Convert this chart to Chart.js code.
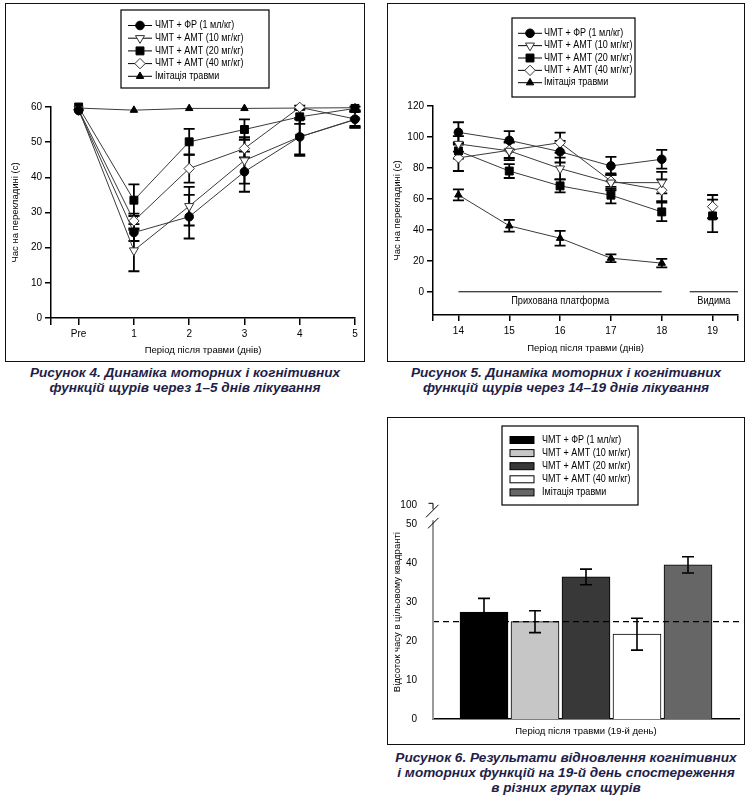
<!DOCTYPE html>
<html>
<head>
<meta charset="utf-8">
<script src="https://cdn.jsdelivr.net/npm/chart.js@4.4.0/dist/chart.umd.min.js"></script>
<style>
  body { margin: 0; background: #fff; width: 750px; height: 797px; position: relative; overflow: hidden; }
  .panel { position: absolute; border: 1.5px solid #111; box-sizing: border-box; }
  .panel canvas { position: absolute; left: 0; top: 0; }
  .cap { position: absolute; text-align: center; color: #1e1e48; font: italic bold 13.6px "Liberation Sans", Arial, sans-serif; line-height: 15px; }
</style>
</head>
<body>
<div class="panel" style="left:5px; top:3px; width:360px; height:359px;"><canvas id="c4" width="360" height="359"></canvas></div>
<div class="panel" style="left:387px; top:3px; width:358px; height:359px;"><canvas id="c5" width="358" height="359"></canvas></div>
<div class="panel" style="left:387px; top:417px; width:358px; height:328px;"><canvas id="c6" width="358" height="328"></canvas></div>

<div class="cap" style="left:5px; width:360px; top:365px;">Рисунок 4. Динаміка моторних і когнітивних<br>функцій щурів через 1–5 днів лікування</div>
<div class="cap" style="left:387px; width:358px; top:365px;">Рисунок 5. Динаміка моторних і когнітивних<br>функцій щурів через 14–19 днів лікування</div>
<div class="cap" style="left:387px; width:358px; top:750px;">Рисунок 6. Результати відновлення когнітивних<br>і моторних функцій на 19-й день спостереження<br>в різних групах щурів</div>

<script>
const FONT = "'Liberation Sans', Arial, sans-serif";
Chart.defaults.font.family = FONT;
Chart.defaults.font.size = 10;
Chart.defaults.color = "#000";
const TITLE_FONT = { size: 9.5 };

// group names (legend)
const groups = [
  "ЧМТ + ФР (1 мл/кг)",
  "ЧМТ + АМТ (10 мг/кг)",
  "ЧМТ + АМТ (20 мг/кг)",
  "ЧМТ + АМТ (40 мг/кг)",
  "Імітація травми",
];

// Figure 4: days 1-5 (0 = Pre)
const days4 = [0, 1, 2, 3, 4, 5];
const dayLabels4 = ["Pre", "1", "2", "3", "4", "5"];
const fr4 = [59.0, 24.3, 28.8, 41.6, 51.5, 56.5];
const fr4Err = [0, 2.4, 6.2, 5.7, 5.4, 2.3];
const amt10_4 = [59.4, 19.2, 31.8, 44.8, 51.5, 56.4];
const amt10_4Err = [0, 5.9, 5.5, 6.6, 5.0, 2.3];
const amt20_4 = [60.0, 33.5, 50.1, 53.6, 57.2, 59.6];
const amt20_4Err = [0, 4.5, 3.7, 2.9, 2.0, 0.5];
const amt40_4 = [59.2, 27.6, 42.5, 48.2, 59.9, 56.6];
const amt40_4Err = [0, 2.1, 4.0, 2.5, 0.5, 2.0];
const sham4 = [59.7, 59.1, 59.6, 59.6, 59.7, 59.8];
const yTicks4 = [0, 10, 20, 30, 40, 50, 60];

// Figure 5: days 14-18 hidden platform, 19 visible
const days5 = [14, 15, 16, 17, 18];
const fr5 = [103.0, 97.8, 90.5, 81.3, 85.6];
const fr5Err = [6.5, 6.0, 7.0, 5.8, 6.0];
const amt10_5 = [95.5, 91.0, 79.6, 70.5, 70.5];
const amt10_5Err = [5.0, 6.0, 7.0, 5.0, 7.0];
const amt20_5 = [91.0, 78.0, 68.4, 62.4, 51.6];
const amt20_5Err = [5.0, 4.5, 4.2, 5.3, 6.0];
const amt40_5 = [86.5, 91.4, 96.3, 71.5, 65.6];
const amt40_5Err = [8.5, 5.0, 6.5, 5.0, 7.0];
const sham5 = [62.6, 42.6, 34.6, 21.7, 18.5];
const sham5Err = [3.5, 3.8, 4.8, 2.5, 2.7];
const visibleDay = 19;
const amt20_19 = 49.0, amt20_19Err = 10.5;
const amt40_19 = 55.0, amt40_19Err = 7.5;
const yTicks5 = [0, 20, 40, 60, 80, 100, 120];
const phases5 = [
  { label: "Прихована платформа", from: 14, to: 18 },
  { label: "Видима", from: 18.55, to: 19.5 },
];

// Figure 6: day 19 quadrant time
const values6 = [27.5, 25.0, 36.5, 21.8, 39.6];
const err6 = [3.5, 2.8, 2.0, 4.1, 2.1];
const colors6 = ["#000000", "#c6c6c6", "#383838", "#ffffff", "#666666"];
const chance6 = 25;
const yTicks6 = [0, 10, 20, 30, 40, 50];

const LINE = "#3a3a3a";

function yOf(raw) {
  return raw !== null && typeof raw === "object" ? raw.y : raw;
}

// narrow text like the original's condensed face
function narrowText(ctx, text, x, y, squeeze) {
  ctx.save();
  ctx.translate(x, y);
  ctx.scale(squeeze, 1);
  ctx.fillText(text, 0, 0);
  ctx.restore();
}

function drawErrors(chart, opts) {
  const ctx = chart.ctx;
  const yScale = chart.scales.y;
  const cap = opts.cap || 5;
  ctx.save();
  ctx.strokeStyle = "#000";
  ctx.lineWidth = opts.width || 1.6;
  chart.data.datasets.forEach((ds, i) => {
    if (!ds.errors) return;
    const meta = chart.getDatasetMeta(i);
    meta.data.forEach((el, j) => {
      const e = ds.errors[j];
      const v = yOf(ds.data[j]);
      if (!e || v == null) return;
      const x = el.x;
      const top = yScale.getPixelForValue(v + e);
      const bot = yScale.getPixelForValue(v - e);
      ctx.beginPath();
      ctx.moveTo(x, top); ctx.lineTo(x, bot);
      ctx.moveTo(x - cap, top); ctx.lineTo(x + cap, top);
      ctx.moveTo(x - cap, bot); ctx.lineTo(x + cap, bot);
      ctx.stroke();
    });
  });
  ctx.restore();
}

const errorBars = {
  id: "errorBars",
  beforeDatasetsDraw(chart, args, opts) {
    if (opts.layer === "behind") drawErrors(chart, opts);
  },
  afterDatasetsDraw(chart, args, opts) {
    if (opts.layer !== "behind") drawErrors(chart, opts);
  },
};

// legend drawn in a framed box, line + marker like the original
const boxLegend = {
  id: "boxLegend",
  afterDraw(chart, args, opts) {
    const ctx = chart.ctx;
    ctx.save();
    ctx.strokeStyle = "#000";
    ctx.lineWidth = 1.2;
    ctx.strokeRect(opts.x, opts.y, opts.w, opts.h);
    ctx.font = "10px " + FONT;
    ctx.textBaseline = "middle";
    let row = 0;
    chart.data.datasets.forEach((ds) => {
      if (ds.noLegend) return;
      const y = opts.y + opts.first + row * opts.step;
      const x0 = opts.x + opts.lineFrom;
      const x1 = opts.x + opts.lineTo;
      ctx.strokeStyle = "#000";
      ctx.lineWidth = 1;
      ctx.beginPath();
      ctx.moveTo(x0, y); ctx.lineTo(x1, y);
      ctx.stroke();
      ctx.fillStyle = ds.pointBackgroundColor;
      ctx.strokeStyle = ds.pointBorderColor;
      ctx.lineWidth = ds.pointBorderWidth;
      Chart.helpers.drawPoint(ctx, {
        pointStyle: ds.pointStyle,
        radius: ds.pointRadius,
        rotation: ds.pointRotation || 0,
        borderWidth: ds.pointBorderWidth,
      }, (x0 + x1) / 2, y);
      ctx.fillStyle = "#000";
      narrowText(ctx, ds.label, opts.x + opts.textX, y, opts.squeeze);
      row++;
    });
    ctx.restore();
  },
};

const swatchLegend = {
  id: "swatchLegend",
  afterDraw(chart, args, opts) {
    const ctx = chart.ctx;
    ctx.save();
    ctx.strokeStyle = "#000";
    ctx.lineWidth = 1.2;
    ctx.strokeRect(opts.x, opts.y, opts.w, opts.h);
    ctx.font = "10px " + FONT;
    ctx.textBaseline = "middle";
    groups.forEach((g, i) => {
      const y = opts.y + opts.first + i * opts.step;
      ctx.fillStyle = colors6[i];
      ctx.fillRect(opts.x + opts.swX, y - 3.5, opts.swW, 7);
      ctx.strokeStyle = "#000";
      ctx.lineWidth = 1;
      ctx.strokeRect(opts.x + opts.swX, y - 3.5, opts.swW, 7);
      ctx.fillStyle = "#000";
      narrowText(ctx, g, opts.x + opts.textX, y, opts.squeeze);
    });
    ctx.restore();
  },
};

const phaseLabels = {
  id: "phaseLabels",
  afterDatasetsDraw(chart, args, opts) {
    const { ctx, scales: { x, y } } = chart;
    const y0 = y.getPixelForValue(0);
    ctx.save();
    ctx.strokeStyle = "#000";
    ctx.lineWidth = 1;
    ctx.font = "10px " + FONT;
    ctx.textAlign = "center";
    ctx.textBaseline = "middle";
    ctx.fillStyle = "#000";
    opts.phases.forEach((p) => {
      const a = x.getPixelForValue(p.from);
      const b = x.getPixelForValue(p.to);
      ctx.beginPath();
      ctx.moveTo(a, y0); ctx.lineTo(b, y0);
      ctx.stroke();
      narrowText(ctx, p.label, (a + b) / 2, y0 + 9, 0.92);
    });
    ctx.restore();
  },
};

const axisBreak = {
  id: "axisBreak",
  afterDraw(chart, args, opts) {
    const { ctx, scales: { y } } = chart;
    const x0 = chart.chartArea.left;
    const yB = y.getPixelForValue(opts.breakAt);
    const yT = y.getPixelForValue(y.max);
    const yZ = y.getPixelForValue(0);
    ctx.save();
    ctx.strokeStyle = "#9a9a9a";
    ctx.lineWidth = 2;
    ctx.beginPath();
    ctx.moveTo(x0, yZ); ctx.lineTo(x0, yB - 4);
    ctx.stroke();
    ctx.strokeStyle = "#000";
    ctx.lineWidth = 1;
    ctx.beginPath();
    ctx.moveTo(x0 - 5, yB + 4); ctx.lineTo(x0 + 5.5, yB - 6.5);
    ctx.moveTo(x0 - 4.5, yT - 2); ctx.lineTo(x0, yT - 2); ctx.lineTo(x0, yT + 4);
    ctx.moveTo(x0 - 7, yT + 12); ctx.lineTo(x0 + 5.5, yT - 0.5);
    ctx.stroke();
    ctx.restore();
  },
};

function lineSet(label, xs, ys, errs, style) {
  return Object.assign({
    label,
    data: xs.map((x, i) => ({ x, y: ys[i] })),
    errors: errs,
    borderColor: LINE,
    borderWidth: 1,
    tension: 0,
    clip: false,
    pointBorderWidth: 1,
  }, style);
}

const STYLES = [
  { pointStyle: "circle", pointRadius: 4.3, pointBackgroundColor: "#000", pointBorderColor: "#000" },
  { pointStyle: "triangle", pointRadius: 5.2, pointRotation: 180, pointBackgroundColor: "#fff", pointBorderColor: "#333" },
  { pointStyle: "rect", pointRadius: 5.6, pointBackgroundColor: "#000", pointBorderColor: "#000" },
  { pointStyle: "rectRot", pointRadius: 5.2, pointBackgroundColor: "#fff", pointBorderColor: "#333" },
  { pointStyle: "triangle", pointRadius: 4.3, pointBackgroundColor: "#000", pointBorderColor: "#000" },
];

function fixedTicks(values) {
  return (scale) => { scale.ticks = values.map((v) => ({ value: v })); };
}

// ---------- Figure 4 ----------
new Chart(document.getElementById("c4"), {
  type: "line",
  data: {
    datasets: [
      lineSet(groups[0], days4, fr4, fr4Err, STYLES[0]),
      lineSet(groups[1], days4, amt10_4, amt10_4Err, STYLES[1]),
      lineSet(groups[2], days4, amt20_4, amt20_4Err, STYLES[2]),
      lineSet(groups[3], days4, amt40_4, amt40_4Err, STYLES[3]),
      lineSet(groups[4], days4, sham4, null, STYLES[4]),
    ],
  },
  options: {
    responsive: false,
    animation: false,
    layout: { padding: { top: 103, right: 11, left: 0, bottom: 0 } },
    scales: {
      x: {
        type: "linear",
        min: -0.5,
        max: 5,
        afterBuildTicks: fixedTicks([-0.5].concat(days4)),
        afterFit: (s) => { s.height = 45; },
        grid: { drawOnChartArea: false, color: "#000", tickLength: 7, lineWidth: 1.5 },
        border: { color: "#000", width: 1.5 },
        ticks: {
          padding: 3,
          callback: (v) => { const i = days4.indexOf(v); return i < 0 ? "" : dayLabels4[i]; },
        },
        title: { display: true, text: "Період після травми (днів)", font: TITLE_FONT, padding: { top: 0, bottom: 7 } },
      },
      y: {
        min: 0,
        max: 60,
        afterBuildTicks: fixedTicks(yTicks4),
        afterFit: (s) => { s.width = 45; },
        grid: { drawOnChartArea: false, color: "#000", tickLength: 6, lineWidth: 1.5 },
        border: { color: "#000", width: 1.5 },
        ticks: { padding: 3 },
        title: { display: true, text: "Час на перекладині (с)", font: TITLE_FONT, padding: { top: 4, bottom: 0 } },
      },
    },
    plugins: {
      legend: { display: false },
      tooltip: { enabled: false },
      errorBars: { layer: "behind", cap: 5.5, width: 1.8 },
      boxLegend: { x: 115, y: 6, w: 148, h: 78, first: 15.5, step: 12.7, lineFrom: 7, lineTo: 31, textX: 34, squeeze: 0.9 },
    },
  },
  plugins: [errorBars, boxLegend],
});

// ---------- Figure 5 ----------
new Chart(document.getElementById("c5"), {
  type: "line",
  data: {
    datasets: [
      lineSet(groups[0], days5, fr5, fr5Err, STYLES[0]),
      lineSet(groups[1], days5, amt10_5, amt10_5Err, STYLES[1]),
      lineSet(groups[2], days5, amt20_5, amt20_5Err, STYLES[2]),
      lineSet(groups[3], days5, amt40_5, amt40_5Err, STYLES[3]),
      lineSet(groups[4], days5, sham5, sham5Err, STYLES[4]),
      Object.assign(lineSet(groups[2], [visibleDay], [amt20_19], [amt20_19Err], STYLES[2]), { noLegend: true, showLine: false }),
      Object.assign(lineSet(groups[3], [visibleDay], [amt40_19], [amt40_19Err], STYLES[3]), { noLegend: true, showLine: false }),
    ],
  },
  options: {
    responsive: false,
    animation: false,
    layout: { padding: { top: 102, right: 8, left: 0, bottom: 0 } },
    scales: {
      x: {
        type: "linear",
        min: 13.5,
        max: 19.5,
        afterBuildTicks: fixedTicks([13.5].concat(days5, [visibleDay, 19.5])),
        afterFit: (s) => { s.height = 48; },
        grid: { drawOnChartArea: false, color: "#000", tickLength: 6, lineWidth: 1.5 },
        border: { color: "#000", width: 1.5 },
        ticks: {
          padding: 4,
          callback: (v) => (Number.isInteger(v) ? String(v) : ""),
        },
        title: { display: true, text: "Період після травми (днів)", font: TITLE_FONT, padding: { top: 0, bottom: 9 } },
      },
      y: {
        min: -15,
        max: 120,
        afterBuildTicks: fixedTicks(yTicks5),
        afterFit: (s) => { s.width = 45; },
        grid: { drawOnChartArea: false, color: "#000", tickLength: 6, lineWidth: 1.5 },
        border: { color: "#000", width: 1.5 },
        ticks: { padding: 3 },
        title: { display: true, text: "Час на перекладині (с)", font: TITLE_FONT, padding: { top: 4, bottom: 0 } },
      },
    },
    plugins: {
      legend: { display: false },
      tooltip: { enabled: false },
      errorBars: { layer: "behind", cap: 5.5, width: 1.8 },
      boxLegend: { x: 124, y: 14, w: 123, h: 79, first: 15.3, step: 12.35, lineFrom: 6, lineTo: 30, textX: 32, squeeze: 0.9 },
      phaseLabels: { phases: phases5 },
    },
  },
  plugins: [errorBars, boxLegend, phaseLabels],
});

// ---------- Figure 6 ----------
const slots6 = ["", ...groups, ""];
new Chart(document.getElementById("c6"), {
  type: "bar",
  data: {
    labels: slots6,
    datasets: [
      {
        type: "line",
        label: "chance",
        data: slots6.map(() => chance6),
        borderColor: "#000",
        borderWidth: 1.2,
        borderDash: [6, 4],
        pointRadius: 0,
        order: 0,
      },
      {
        label: "day19",
        data: [null, ...values6, null],
        errors: [0, ...err6, 0],
        backgroundColor: [null, ...colors6, null],
        borderColor: "#000",
        borderWidth: 1,
        barThickness: 48,
        order: 1,
      },
    ],
  },
  options: {
    responsive: false,
    animation: false,
    layout: { padding: { top: 87.3, right: 7, left: 0, bottom: 0 } },
    scales: {
      x: {
        offset: false,
        afterFit: (s) => { s.height = 27; },
        grid: { display: false },
        border: { color: "#000", width: 1.5 },
        ticks: { display: false },
        title: { display: true, text: "Період після травми (19-й день)", font: TITLE_FONT, padding: { top: 0, bottom: 9 } },
      },
      y: {
        min: 0,
        max: 54.9,
        afterBuildTicks: fixedTicks(yTicks6.concat([54.9])),
        afterFit: (s) => { s.width = 45; },
        grid: { display: false },
        border: { display: false },
        ticks: { padding: 8, callback: (v) => (v > 50 ? "100" : String(v)) },
        title: { display: true, text: "Відсоток часу в цільовому квадранті", font: TITLE_FONT, padding: { top: 4, bottom: 0 } },
      },
    },
    plugins: {
      legend: { display: false },
      tooltip: { enabled: false },
      errorBars: { layer: "front", cap: 6, width: 1.6 },
      swatchLegend: { x: 114, y: 8, w: 136, h: 79, first: 14, step: 13.1, swX: 8, swW: 24, textX: 40, squeeze: 0.9 },
      axisBreak: { breakAt: 50 },
    },
  },
  plugins: [errorBars, swatchLegend, axisBreak],
});
</script>
</body>
</html>
